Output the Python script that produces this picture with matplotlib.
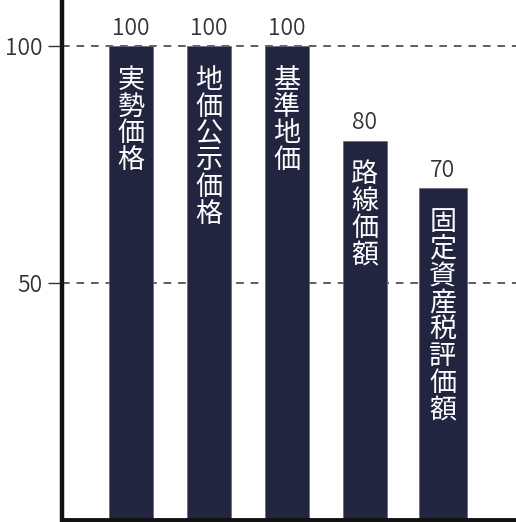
import matplotlib
matplotlib.use("Agg")
import matplotlib.pyplot as plt
import numpy as np

# Data
labels = ["実勢価格", "地価公示価格", "基準地価", "路線価額", "固定資産税評価額"]
values = [100, 100, 100, 80, 70]
yticks = [50, 100]

plt.rcParams['font.family'] = ['Noto Sans CJK JP', 'DejaVu Sans']

BAR_COLOR = "#222540"

fig = plt.figure(figsize=(5.16, 5.22), dpi=100)
ax = fig.add_axes([61.5 / 516, 2 / 522, 1 - 61.5 / 516, 1 - 2 / 522])

x = np.arange(len(labels))
widths = [0.57, 0.57, 0.57, 0.57, 0.62]
bars = ax.bar(x, values, width=widths, color=BAR_COLOR,
              edgecolor="#6a6d80", linewidth=0.6, zorder=2)

# dashed reference lines behind the bars
for t in yticks:
    ax.axhline(t, color="#333333", lw=1.1, ls=(0, (5, 4.5)), zorder=1)

# value labels on top
for xi, v in zip(x, values):
    ax.text(xi, v + 1.4, str(v), ha="center", va="bottom",
            fontsize=16.5, color="#333333", fontweight=350)

# vertical labels inside the bars
for xi, v, lab in zip(x, values, labels):
    ax.text(xi, v - 4.3, "\n".join(lab), ha="center", va="top",
            fontsize=19.5, color="white", linespacing=0.99, zorder=3)

ax.set_xlim(-0.89, 4.94)
ax.set_ylim(0, 109.8)
ax.set_xticks([])
ax.set_yticks(yticks)
ax.tick_params(axis="y", length=10, width=1, color="#333333",
               labelsize=16.5, labelcolor="#333333", pad=4)
for t in ax.get_yticklabels():
    t.set_fontweight(350)

for s in ["top", "right"]:
    ax.spines[s].set_visible(False)
ax.spines["left"].set_linewidth(3.2)
ax.spines["bottom"].set_linewidth(3.5)
ax.spines["left"].set_color("#111111")
ax.spines["bottom"].set_color("#111111")

fig.savefig("out.png", dpi=100)
